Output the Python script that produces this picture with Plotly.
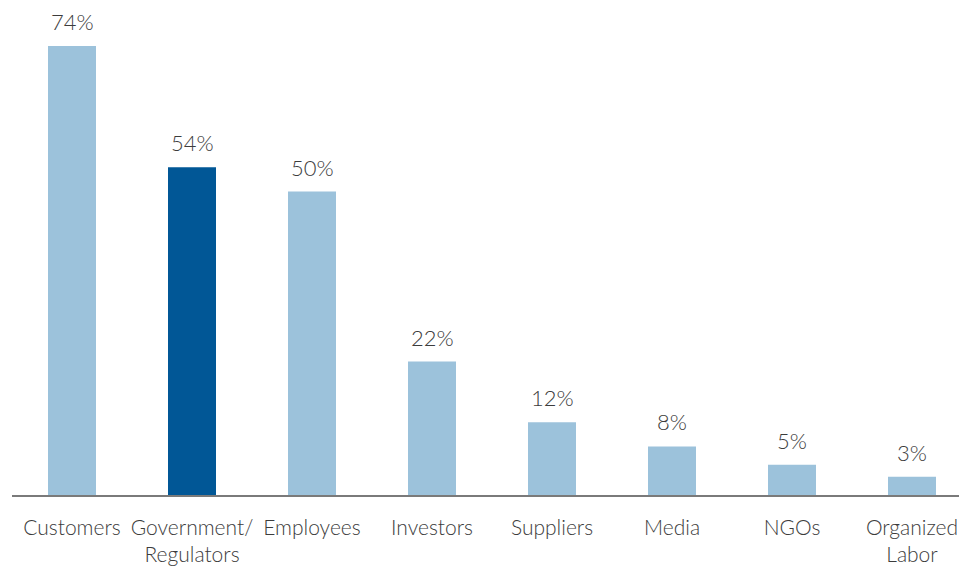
import plotly.graph_objects as go

categories = ["Customers", "Government/<br>Regulators", "Employees", "Investors",
              "Suppliers", "Media", "NGOs", "Organized<br>Labor"]
values = [74, 54, 50, 22, 12, 8, 5, 3]
highlight = "Government/<br>Regulators"

light_blue = "#9cc2db"
dark_blue = "#015796"
text_color = "#3c3c3c"
font_family = "Lato, sans-serif"
colors = [dark_blue if c == highlight else light_blue for c in categories]

fig = go.Figure(
    go.Bar(
        x=categories,
        y=values,
        width=0.4,
        marker=dict(color=colors, line=dict(width=0)),
        hoverinfo="x+y",
    )
)

# Percentage labels floating above each bar
for cat, val in zip(categories, values):
    fig.add_annotation(
        x=cat,
        y=val,
        text=f"{val}%",
        showarrow=False,
        yanchor="bottom",
        yshift=9,
        font=dict(family=font_family, size=22, color=text_color, weight=300),
    )

fig.update_layout(
    width=959,
    height=567,
    margin=dict(l=12, r=0, t=10, b=72),
    paper_bgcolor="white",
    plot_bgcolor="white",
    showlegend=False,
    font=dict(family=font_family, color=text_color),
)
fig.update_xaxes(
    range=[-0.5, -0.5 + 947 / 120],
    showline=True,
    linecolor="#7a7a7a",
    linewidth=1.5,
    ticks="outside",
    ticklen=13,
    tickcolor="rgba(0,0,0,0)",
    tickfont=dict(family=font_family, size=21, color=text_color, weight=300),
    showgrid=False,
    zeroline=False,
)
fig.update_yaxes(
    range=[0, 485 / 6.068],
    visible=False,
    showgrid=False,
    zeroline=False,
)

fig.write_html("out.html")
